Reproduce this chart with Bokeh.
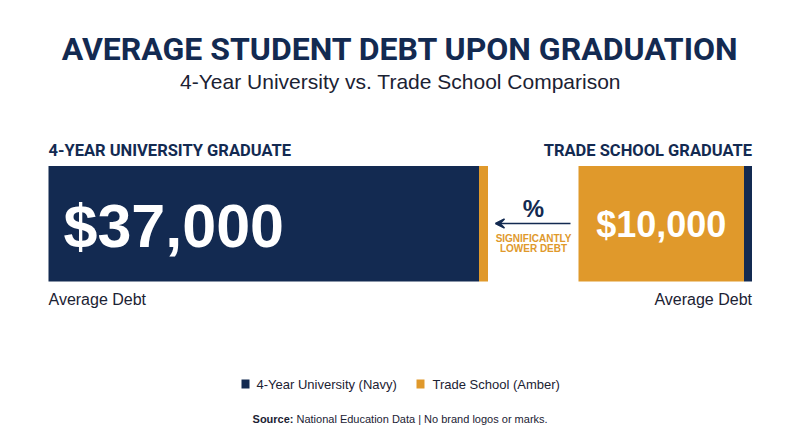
from bokeh.plotting import figure
from bokeh.models import Range1d, Arrow, VeeHead
from bokeh.core.properties import value
from bokeh.embed import file_html
from bokeh.resources import INLINE

# ---- data ----
groups = ["4-Year University", "Trade School"]
group_headers = ["4-YEAR UNIVERSITY GRADUATE", "TRADE SCHOOL GRADUATE"]
debt = [37000, 10000]
value_caption = ["Average Debt", "Average Debt"]
legend_labels = ["4-Year University (Navy)", "Trade School (Amber)"]
title = "AVERAGE STUDENT DEBT UPON GRADUATION"
subtitle = "4-Year University vs. Trade School Comparison"
comparison_symbol = "%"
comparison_text = ["SIGNIFICANTLY", "LOWER DEBT"]
source_bold = "Source:"
source_text = "National Education Data | No brand logos or marks."

NAVY = "#132a51"
AMBER = "#e0992b"
DARK = "#1b2233"

W, H = 784, 431
p = figure(width=W, height=H, output_backend="svg", toolbar_location=None,
           x_range=Range1d(0, W), y_range=Range1d(H, 0),
           min_border=0, outline_line_color=None, background_fill_color="white",
           border_fill_color="white")
p.axis.visible = False
p.grid.visible = False

HEAD = value("Roboto")
SANS = value("Liberation Sans")

# title / subtitle
p.text(x=[400], y=[48], text=[title], text_font=HEAD, text_font_style="bold",
       text_font_size="32px", text_color=NAVY, text_align="center", text_baseline="middle")
p.text(x=[400], y=[81], text=[subtitle], text_font=SANS,
       text_font_size="21px", text_color=DARK, text_align="center", text_baseline="middle")

# panels
top, bottom = 165.5, 281
left_x0, left_x1 = 48, 478.5
right_x0, right_x1 = 578, 743.5
strip = 9

p.quad(left=[left_x0], right=[left_x1], top=[top], bottom=[bottom], fill_color=NAVY, line_color=None)
p.quad(left=[left_x1], right=[left_x1 + strip], top=[top], bottom=[bottom], fill_color=AMBER, line_color=None)
p.quad(left=[right_x0], right=[right_x1], top=[top], bottom=[bottom], fill_color=AMBER, line_color=None)
p.quad(left=[right_x1], right=[right_x1 + 8], top=[top], bottom=[bottom], fill_color=NAVY, line_color=None)

# headers
p.text(x=[48], y=[150], text=[group_headers[0]], text_font=HEAD, text_font_style="bold",
       text_font_size="16.5px", text_color=NAVY, text_align="left", text_baseline="middle")
p.text(x=[751.5], y=[150], text=[group_headers[1]], text_font=HEAD, text_font_style="bold",
       text_font_size="16.5px", text_color=NAVY, text_align="right", text_baseline="middle")

# values
labels = ["${:,}".format(v) for v in debt]
p.text(x=[63], y=[225], text=[labels[0]], text_font=SANS, text_font_style="bold",
       text_font_size="61px", text_color="white", text_align="left", text_baseline="middle")
p.text(x=[(right_x0 + right_x1) / 2], y=[224], text=[labels[1]], text_font=SANS, text_font_style="bold",
       text_font_size="36px", text_color="white", text_align="center", text_baseline="middle")

# captions
p.text(x=[48], y=[299], text=[value_caption[0]], text_font=SANS,
       text_font_size="16px", text_color=DARK, text_align="left", text_baseline="middle")
p.text(x=[751.5], y=[299], text=[value_caption[1]], text_font=SANS,
       text_font_size="16px", text_color=DARK, text_align="right", text_baseline="middle")

# comparison arrow
p.text(x=[533], y=[208], text=[comparison_symbol], text_font=SANS, text_font_style="bold",
       text_font_size="24px", text_color=NAVY, text_align="center", text_baseline="middle")
p.add_layout(Arrow(end=VeeHead(size=9, fill_color=NAVY, line_color=NAVY, line_width=1.5),
                   x_start=570, y_start=223, x_end=495, y_end=223,
                   line_color=NAVY, line_width=1.6))
p.text(x=[533, 533], y=[237.5, 248], text=comparison_text, text_font=SANS, text_font_style="bold",
       text_font_size="10px", text_color=AMBER, text_align="center", text_baseline="middle")

# legend
p.quad(left=[241, 416], right=[249, 424], top=[379, 379], bottom=[388, 388],
       fill_color=[NAVY, AMBER], line_color=None)
p.text(x=[256, 432], y=[383.5, 383.5], text=legend_labels, text_font=SANS,
       text_font_size="13px", text_color=DARK, text_align="left", text_baseline="middle")

# source
p.text(x=[293], y=[418], text=[source_bold], text_font=SANS, text_font_style="bold",
       text_font_size="11px", text_color=DARK, text_align="right", text_baseline="middle")
p.text(x=[296], y=[418], text=[source_text], text_font=SANS,
       text_font_size="11px", text_color=DARK, text_align="left", text_baseline="middle")

open("out.html", "w").write(file_html(p, INLINE))
